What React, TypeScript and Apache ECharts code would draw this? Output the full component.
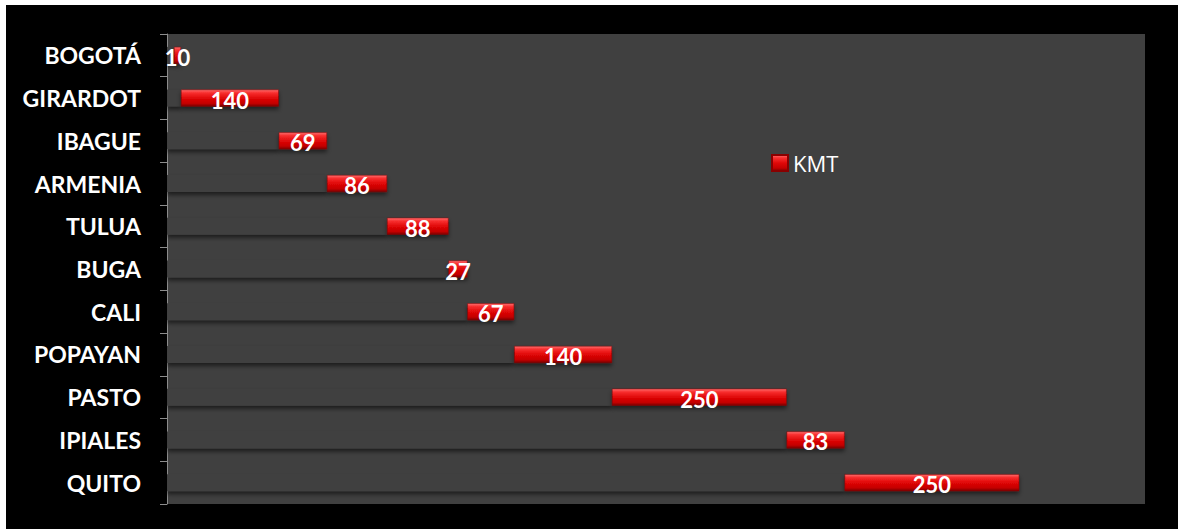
import React, { useEffect, useRef } from "react";
import * as echarts from "echarts";

const categories = [
  "BOGOTÁ",
  "GIRARDOT",
  "IBAGUE",
  "ARMENIA",
  "TULUA",
  "BUGA",
  "CALI",
  "POPAYAN",
  "PASTO",
  "IPIALES",
  "QUITO",
];
const kmt = [10, 140, 69, 86, 88, 27, 67, 140, 250, 83, 250];
const startKm = 10;
const seriesName = "KMT";

const baseValues: number[] = [];
{
  let acc = startKm;
  for (const v of kmt) {
    baseValues.push(acc);
    acc += v;
  }
}

export default function App() {
  const ref = useRef<HTMLDivElement>(null);
  useEffect(() => {
    document.body.style.margin = "0";
    const chart = echarts.init(ref.current!, null, { renderer: "svg" });
    const redGrad = new echarts.graphic.LinearGradient(0, 0, 0, 1, [
      { offset: 0, color: "#ff7070" },
      { offset: 0.18, color: "#f83030" },
      { offset: 0.5, color: "#e00808" },
      { offset: 0.82, color: "#c40000" },
      { offset: 1, color: "#7a0000" },
    ]);
    chart.setOption({
      animation: false,
      backgroundColor: "#ffffff",
      graphic: [
        {
          type: "rect",
          z: -10,
          silent: true,
          shape: { x: 6, y: 5, width: 1172, height: 524 },
          style: { fill: "#000000" },
        },
      ],
      legend: {
        data: [seriesName],
        left: 766,
        top: 147,
        icon: "rect",
        itemWidth: 16,
        itemHeight: 16,
        itemGap: 6,
        textStyle: {
          color: "#ffffff",
          fontSize: 22,
          fontFamily: "Open Sans",
          padding: [0, 0, 0, 0],
        },
      },
      grid: {
        left: 167,
        top: 34,
        width: 978,
        height: 470,
        show: true,
        backgroundColor: "#404040",
        borderWidth: 0,
        containLabel: false,
      },
      xAxis: {
        type: "value",
        min: 0,
        max: 1400,
        show: false,
        splitLine: { show: false },
      },
      yAxis: {
        type: "category",
        data: categories,
        inverse: true,
        axisLine: { show: true, lineStyle: { color: "#8c8c8c", width: 1 } },
        axisTick: { show: true, length: 7, lineStyle: { color: "#8c8c8c" } },
        axisLabel: {
          color: "#ffffff",
          fontFamily: "Lato",
          fontWeight: "bold",
          fontSize: 23,
          margin: 26,
        },
        splitLine: { show: false },
      },
      series: [
        {
          name: "base",
          type: "bar",
          stack: "total",
          data: baseValues,
          barWidth: 17,
          silent: true,
          itemStyle: {
            color: "#404040",
            shadowColor: "rgba(0,0,0,0.55)",
            shadowBlur: 4,
            shadowOffsetY: 3,
          },
          label: { show: false },
        },
        {
          name: seriesName,
          type: "bar",
          stack: "total",
          data: kmt,
          barWidth: 17,
          itemStyle: {
            color: redGrad,
            borderColor: "#8a0000",
            borderWidth: 0.5,
            shadowColor: "rgba(0,0,0,0.5)",
            shadowBlur: 4,
            shadowOffsetY: 3,
          },
          label: {
            show: true,
            position: "inside",
            color: "#ffffff",
            fontFamily: "Lato",
            fontWeight: "bold",
            fontSize: 22,
            offset: [0, 2],
          },
        },
      ],
    });
    return () => chart.dispose();
  }, []);
  return <div ref={ref} style={{ width: 1178, height: 529 }} />;
}
